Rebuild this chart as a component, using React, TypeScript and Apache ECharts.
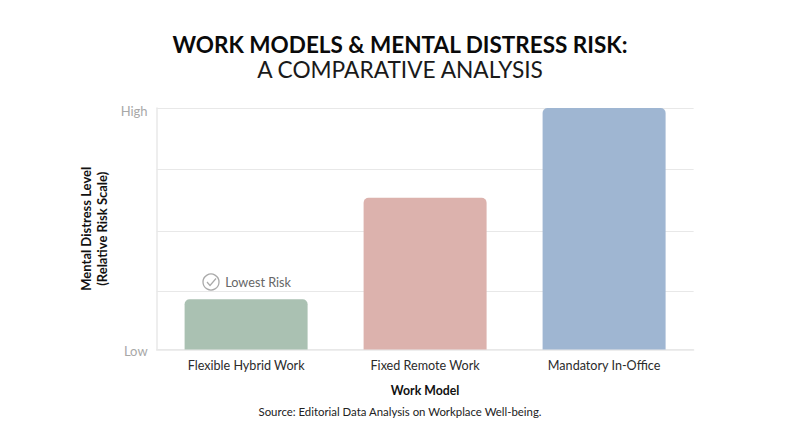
import React, { useEffect, useRef } from "react";
import * as echarts from "echarts";

const categories = ["Flexible Hybrid Work", "Fixed Remote Work", "Mandatory In-Office"];
const riskValues = [20.8, 62.8, 100];
const barColors = ["#aac1b2", "#dcb2ad", "#9fb6d2"];
const gridValues = [0, 24, 49, 74.5, 100];
const labelValues = [0, 100];
const FONT = "Lato";

export default function App() {
  const ref = useRef<HTMLDivElement>(null);
  useEffect(() => {
    document.body.style.margin = "0";
    const chart = echarts.init(ref.current!, undefined, { renderer: "svg" });
    chart.setOption({
      animation: false,
      backgroundColor: "#ffffff",
      textStyle: { fontFamily: FONT },
      title: [
        {
          text: "WORK MODELS & MENTAL DISTRESS RISK:",
          left: 395, top: 28, textAlign: "center",
          textStyle: { fontFamily: FONT, fontSize: 22.5, fontWeight: 700, color: "#0a0a0a" },
        },
        {
          text: "A COMPARATIVE ANALYSIS",
          left: 395, top: 53, textAlign: "center",
          textStyle: { fontFamily: FONT, fontSize: 22.7, fontWeight: 400, color: "#1a1a1a" },
        },
      ],
      grid: { left: 156.6, right: 106.4, top: 108, bottom: 97.5 },
      xAxis: {
        type: "category",
        data: categories,
        axisLine: { show: true, lineStyle: { color: "#e8e8e8", width: 1.5 } },
        axisTick: { show: false },
        axisLabel: { color: "#2b2b2b", fontSize: 12.6, fontFamily: FONT, margin: 9 },
        name: "Work Model",
        nameLocation: "middle",
        nameGap: 35,
        nameTextStyle: { color: "#111111", fontSize: 12.3, fontWeight: 700, fontFamily: FONT },
      },
      yAxis: {
        type: "value",
        min: 0,
        max: 100,
        axisLine: { show: true, lineStyle: { color: "#e8e8e8", width: 1.5 } },
        axisTick: { show: false, customValues: gridValues },
        splitLine: { show: true, lineStyle: { color: "#e8e8e8", width: 1 } },
        axisLabel: {
          customValues: labelValues,
          fontFamily: FONT,
          margin: 9,
          formatter: (v: number) => (v === 0 ? "{low|Low}" : "{high|High}"),
          rich: {
            high: { color: "#a8a8a8", fontSize: 13, fontFamily: FONT, padding: [6, 0, 0, 0] },
            low: { color: "#a8a8a8", fontSize: 13, fontFamily: FONT, padding: [2, 0, 0, 0] },
          },
        },
        name: "Mental Distress Level\n(Relative Risk Scale)",
        nameLocation: "middle",
        nameGap: 41,
        nameTextStyle: { color: "#111111", fontSize: 13, fontWeight: 700, fontFamily: FONT, lineHeight: 16 },
      },
      series: [
        {
          type: "bar",
          barWidth: 123,
          data: riskValues.map((value, i) => ({
            value,
            itemStyle: { color: barColors[i], borderRadius: [5, 5, 0, 0] },
            label:
              i === 0
                ? {
                    show: true,
                    position: "top",
                    formatter: "Lowest Risk",
                    offset: [12, -6],
                    color: "#666666",
                    fontSize: 12.7,
                    fontFamily: FONT,
                  }
                : { show: false },
          })),
        },
      ],
      graphic: [
        {
          type: "circle",
          shape: { cx: 211, cy: 282, r: 8 },
          style: { fill: "none", stroke: "#a9a9a9", lineWidth: 1.3 },
        },
        {
          type: "polyline",
          shape: { points: [[207, 282], [210, 285.5], [216, 278.5]] },
          style: { fill: "none", stroke: "#a9a9a9", lineWidth: 1.2 },
        },
        {
          type: "text",
          x: 400,
          y: 411,
          style: {
            text: "Source: Editorial Data Analysis on Workplace Well-being.",
            fontFamily: FONT,
            fontSize: 11.4,
            fill: "#222222",
            align: "center",
            verticalAlign: "middle",
          },
        },
      ],
    });
    return () => chart.dispose();
  }, []);
  return <div ref={ref} style={{ width: 800, height: 447 }} />;
}
